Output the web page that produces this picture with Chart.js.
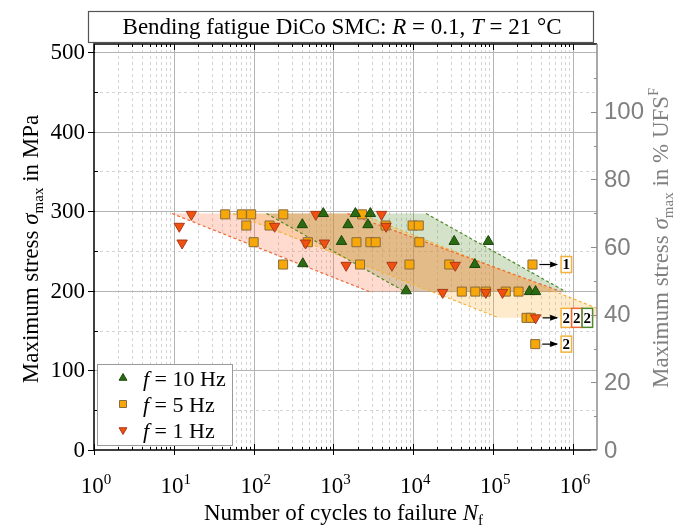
<!DOCTYPE html>
<html>
<head>
<meta charset="utf-8">
<script src="https://cdn.jsdelivr.net/npm/chart.js@4.4.1/dist/chart.umd.min.js"></script>
<style>
  html, body { margin: 0; padding: 0; background: #fff; }
  #wrap { width: 680px; height: 525px; }
</style>
</head>
<body>
<div id="wrap"><canvas id="fatigueChart" width="680" height="525"></canvas></div>
<script>
// Messwerte: Lastwechsel N und Oberspannung S (MPa), je Frequenz
const hz10N = [745, 1880, 2900, 407, 1520, 2700, 1260, 32500, 87000, 413, 59000, 8150, 285000, 340000];
const hz10S = [297, 297, 297, 283, 283, 283, 262, 262, 262, 234, 233, 200, 199, 199];

const hz5N = [44, 71, 93, 235, 2280, 81, 158, 4500, 9800, 11700, 100, 478, 1940, 2900, 3380, 11900,
              234, 2150, 8950, 28200, 311000, 40500, 59700, 81000, 144000, 208000, 262000, 296000, 337000];
const hz5S = [296, 296, 296, 296, 296, 282, 282, 282, 282, 282, 261, 261, 261, 261, 261, 261,
              233, 233, 233, 233, 233, 199, 199, 199, 199, 199, 166, 166, 133];

const hz1N = [16.6, 11.7, 12.7, 183, 600, 4000, 4550, 447, 770, 1440, 5400, 33500, 23300, 81000, 131000, 340000];
const hz1S = [296, 281, 260, 281, 296, 296, 281, 260, 260, 232, 232, 232, 198, 198, 198, 166];

// Streubänder (Eckpunkte: oben links, oben rechts, unten rechts, unten links)
const band1N = [9.5, 1500, 7.1e5, 2800];
const band1S = [297, 297, 199, 199];
const band5N = [55, 2100, 4e6, 1.18e5];
const band5S = [297, 297, 166, 166];
const band10N = [145, 14500, 8.1e5, 7800];
const band10S = [297, 297, 199, 199];

// Durchläufer: Punkt -> Kasten mit Anzahl
const runoutN = [3.1e5, 3.4e5, 3.37e5];
const runoutS = [233, 166, 133];
const runoutCount = [['1'], ['2', '2', '2'], ['2']];
const runoutFreq = [['5'], ['5', '1', '10'], ['5']];
const runoutBoxN = 7.1e5;

// Achsen
const xTickExp = [0, 1, 2, 3, 4, 5, 6];
const yTicks = [0, 100, 200, 300, 400, 500];
const y2Ticks = [0, 20, 40, 60, 80, 100];

const legendLabels = ['10', '5', '1'];

const col = {
  '10': { fill: '#2b6a12', line: '#1b470a', band: 'rgba(80,140,40,0.25)', edge: '#4f8a2c' },
  '5':  { fill: '#f7a707', line: '#8a6b3c', band: 'rgba(248,175,50,0.25)', edge: '#f4b23c' },
  '1':  { fill: '#f2500f', line: '#a8391a', band: 'rgba(250,110,60,0.25)', edge: '#f0683a' }
};

const serif = '"Liberation Serif", "Times New Roman", serif';
const sans = '"Liberation Sans", Arial, sans-serif';

const pts = (ns, ss) => ns.map((n, i) => ({ x: n, y: ss[i] }));
const closed = (ns, ss) => { const p = pts(ns, ss); p.push(p[0]); return p; };

function bandSet(ns, ss, key) {
  return { type: 'line', data: closed(ns, ss), fill: 'shape', backgroundColor: col[key].band,
           borderWidth: 0, pointRadius: 0, order: 3 };
}
function edgeSet(ns, ss, a, b, key) {
  return { type: 'line', data: [{ x: ns[a], y: ss[a] }, { x: ns[b], y: ss[b] }], fill: false,
           borderColor: col[key].edge, borderWidth: 1.2, borderDash: [3, 2.5], pointRadius: 0, order: 2 };
}

function drawMarker(ctx, style, x, y, r, fill, stroke) {
  ctx.save();
  ctx.fillStyle = fill; ctx.strokeStyle = stroke; ctx.lineWidth = 1;
  ctx.beginPath();
  if (style === 'up') {
    ctx.moveTo(x, y - r); ctx.lineTo(x + r * 0.866, y + r / 2); ctx.lineTo(x - r * 0.866, y + r / 2);
  } else if (style === 'down') {
    ctx.moveTo(x, y + r); ctx.lineTo(x + r * 0.866, y - r / 2); ctx.lineTo(x - r * 0.866, y - r / 2);
  } else {
    ctx.rect(x - r * 0.7, y - r * 0.7, r * 1.4, r * 1.4);
  }
  ctx.closePath(); ctx.fill(); ctx.stroke();
  ctx.restore();
}

function richWidth(ctx, segs) {
  let w = 0;
  segs.forEach(s => { ctx.font = s.font; w += ctx.measureText(s.text).width; });
  return w;
}
function drawRich(ctx, segs, x, y, align) {
  let cx = align === 'left' ? x : x - richWidth(ctx, segs) / 2;
  ctx.textAlign = 'left'; ctx.textBaseline = 'alphabetic';
  segs.forEach(s => {
    ctx.font = s.font;
    ctx.fillText(s.text, cx, y + (s.dy || 0));
    cx += ctx.measureText(s.text).width;
  });
}

const gridPlugin = {
  id: 'gridPlugin',
  beforeDatasetsDraw(chart) {
    const { ctx, chartArea: a, scales: { x, y } } = chart;
    ctx.save();
    ctx.lineWidth = 1;
    // Nebenraster gestrichelt
    ctx.strokeStyle = '#d4d4d4'; ctx.setLineDash([3, 3]);
    for (let d = 0; d <= 6; d++) {
      for (let m = 2; m <= 9; m++) {
        const v = m * Math.pow(10, d);
        if (v >= x.max) continue;
        const px = Math.round(x.getPixelForValue(v)) + 0.5;
        ctx.beginPath(); ctx.moveTo(px, a.top); ctx.lineTo(px, a.bottom); ctx.stroke();
      }
    }
    for (let v = 50; v < y.max; v += 100) {
      const py = Math.round(y.getPixelForValue(v)) + 0.5;
      ctx.beginPath(); ctx.moveTo(a.left, py); ctx.lineTo(a.right, py); ctx.stroke();
    }
    // Hauptraster
    ctx.setLineDash([]); ctx.strokeStyle = '#b4b4b4';
    xTickExp.slice(1).forEach(e => {
      const px = Math.round(x.getPixelForValue(Math.pow(10, e))) + 0.5;
      ctx.beginPath(); ctx.moveTo(px, a.top); ctx.lineTo(px, a.bottom); ctx.stroke();
    });
    yTicks.slice(1).forEach(v => {
      const py = Math.round(y.getPixelForValue(v)) + 0.5;
      ctx.beginPath(); ctx.moveTo(a.left, py); ctx.lineTo(a.right, py); ctx.stroke();
    });
    ctx.restore();
  },
  afterDatasetsDraw(chart) {
    const { ctx, chartArea: a, scales: { x, y, y2 } } = chart;
    ctx.save();

    // Durchläufer-Pfeile und Kästen
    const bx = x.getPixelForValue(runoutBoxN);
    runoutN.forEach((n, i) => {
      const px = x.getPixelForValue(n), py = y.getPixelForValue(runoutS[i]);
      ctx.strokeStyle = '#000'; ctx.fillStyle = '#000'; ctx.lineWidth = 1.2;
      ctx.beginPath(); ctx.moveTo(px + 7, py); ctx.lineTo(bx - 4, py); ctx.stroke();
      ctx.beginPath(); ctx.moveTo(bx - 3, py); ctx.lineTo(bx - 11, py - 3); ctx.lineTo(bx - 11, py + 3); ctx.closePath(); ctx.fill();
      runoutCount[i].forEach((t, k) => {
        const h = i === 1 ? 19 : 16, w = 10.5;
        const l = bx + k * w;
        ctx.fillStyle = '#fff';
        ctx.fillRect(l, py - h / 2, w, h);
        ctx.strokeStyle = col[runoutFreq[i][k]].edge; ctx.lineWidth = 1.5;
        ctx.strokeRect(l, py - h / 2, w, h);
        ctx.fillStyle = '#000'; ctx.font = 'bold 15px ' + serif;
        ctx.textAlign = 'center'; ctx.textBaseline = 'middle';
        ctx.fillText(t, l + w / 2, py + 1);
      });
    });

    // Rahmen und Achslinien
    ctx.lineWidth = 1.5; ctx.strokeStyle = '#000';
    ctx.beginPath();
    ctx.moveTo(a.right, a.top); ctx.lineTo(a.left, a.top); ctx.lineTo(a.left, a.bottom); ctx.lineTo(a.right, a.bottom);
    ctx.stroke();
    ctx.strokeStyle = '#8c8c8c';
    ctx.beginPath(); ctx.moveTo(a.right, a.top); ctx.lineTo(a.right, a.bottom); ctx.stroke();

    // Ticks x (oben und unten)
    ctx.strokeStyle = '#000'; ctx.lineWidth = 1;
    for (let d = 0; d <= 6; d++) {
      for (let m = 1; m <= 9; m++) {
        const v = m * Math.pow(10, d);
        if (v >= x.max) continue;
        const px = Math.round(x.getPixelForValue(v)) + 0.5;
        const len = m === 1 ? 6 : 3;
        ctx.beginPath();
        ctx.moveTo(px, a.bottom + (m === 1 ? 5 : 0)); ctx.lineTo(px, a.bottom - len);
        ctx.moveTo(px, a.top); ctx.lineTo(px, a.top + len);
        ctx.stroke();
      }
    }
    // Ticks y links
    for (let v = 0; v <= 500; v += 50) {
      const py = Math.round(y.getPixelForValue(v)) + 0.5;
      ctx.beginPath();
      if (v % 100 === 0) { ctx.moveTo(a.left - 6, py); ctx.lineTo(a.left + 1, py); }
      else { ctx.moveTo(a.left, py); ctx.lineTo(a.left + 4, py); }
      ctx.stroke();
    }
    // Ticks y2 rechts
    ctx.strokeStyle = '#8c8c8c';
    for (let v = 0; v <= 110; v += 10) {
      const py = Math.round(y2.getPixelForValue(v)) + 0.5;
      ctx.beginPath(); ctx.moveTo(a.right - (v % 20 === 0 ? 6 : 3), py); ctx.lineTo(a.right, py); ctx.stroke();
    }

    // Beschriftung y links
    ctx.fillStyle = '#000'; ctx.font = '23px ' + serif;
    ctx.textAlign = 'right'; ctx.textBaseline = 'middle';
    yTicks.forEach(v => ctx.fillText(String(v), a.left - 9, y.getPixelForValue(v) + 1));
    // Beschriftung y2 rechts
    ctx.fillStyle = '#808080'; ctx.font = '24px ' + sans; ctx.textAlign = 'left';
    y2Ticks.forEach(v => ctx.fillText(String(v), a.right + 7, y2.getPixelForValue(v) + 1));
    // Beschriftung x (10^n)
    ctx.fillStyle = '#000';
    xTickExp.forEach(e => {
      const px = x.getPixelForValue(Math.pow(10, e));
      drawRich(ctx, [{ text: '10', font: '23px ' + serif }, { text: String(e), font: '15px ' + serif, dy: -9 }], px + 2, 493, 'center');
    });

    // Achsentitel
    drawRich(ctx, [
      { text: 'Number of cycles to failure ', font: '23px ' + serif },
      { text: 'N', font: 'italic 23px ' + serif },
      { text: 'f', font: '15px ' + serif, dy: 5 }
    ], (a.left + a.right) / 2 - 2, 520, 'center');

    ctx.save();
    ctx.translate(38, (a.top + a.bottom) / 2 + 2); ctx.rotate(-Math.PI / 2);
    drawRich(ctx, [
      { text: 'Maximum stress ', font: '23px ' + serif },
      { text: 'σ', font: 'italic 23px ' + serif },
      { text: 'max', font: '15px ' + serif, dy: 5 },
      { text: ' in MPa', font: '23px ' + serif }
    ], 0, 0, 'center');
    ctx.restore();

    ctx.save();
    ctx.fillStyle = '#808080';
    ctx.translate(668, 238); ctx.rotate(-Math.PI / 2);
    drawRich(ctx, [
      { text: 'Maximum stress ', font: '23px ' + serif },
      { text: 'σ', font: 'italic 23px ' + serif },
      { text: 'max', font: '15px ' + serif, dy: 5 },
      { text: ' in % UFS', font: '23px ' + serif },
      { text: 'F', font: '14px ' + serif, dy: -10 }
    ], 0, 0, 'center');
    ctx.restore();

    // Titel im Kasten
    ctx.strokeStyle = '#555'; ctx.lineWidth = 1.2;
    ctx.strokeRect(88.5, 11.5, 505, 31);
    ctx.fillStyle = '#000';
    drawRich(ctx, [
      { text: 'Bending fatigue DiCo SMC: ', font: '23px ' + serif },
      { text: 'R', font: 'italic 23px ' + serif },
      { text: ' = 0.1, ', font: '23px ' + serif },
      { text: 'T', font: 'italic 23px ' + serif },
      { text: ' = 21 °C', font: '23px ' + serif }
    ], 342, 34, 'center');

    // Legende
    ctx.fillStyle = '#fff'; ctx.fillRect(97, 364, 135, 81);
    ctx.strokeStyle = '#999'; ctx.lineWidth = 1; ctx.strokeRect(97.5, 364.5, 135, 81);
    const styles = { '10': 'up', '5': 'square', '1': 'down' };
    legendLabels.forEach((k, i) => {
      const ly = 378 + i * 26;
      drawMarker(ctx, styles[k], 123, ly, k === '5' ? 5 : 4.5, col[k].fill, col[k].line);
      ctx.fillStyle = '#000';
      drawRich(ctx, [
        { text: 'f', font: 'italic 22px ' + serif },
        { text: ' = ' + k + ' Hz', font: '22px ' + serif }
      ], 143, ly + 8, 'left');
    });

    ctx.restore();
  }
};

const ctx = document.getElementById('fatigueChart').getContext('2d');
const fatigueChart = new Chart(ctx, {
  type: 'scatter',
  data: {
    datasets: [
      { label: 'f = 10 Hz', data: pts(hz10N, hz10S), pointStyle: 'triangle', pointRadius: 6,
        backgroundColor: col['10'].fill, borderColor: col['10'].line, borderWidth: 1, order: 0 },
      { label: 'f = 5 Hz', data: pts(hz5N, hz5S), pointStyle: 'rect', pointRadius: 6.4,
        backgroundColor: col['5'].fill, borderColor: col['5'].line, borderWidth: 1, order: 1 },
      { label: 'f = 1 Hz', data: pts(hz1N, hz1S), pointStyle: 'triangle', rotation: 180, pointRadius: 6,
        backgroundColor: col['1'].fill, borderColor: col['1'].line, borderWidth: 1, order: 0 },
      bandSet(band1N, band1S, '1'),
      bandSet(band5N, band5S, '5'),
      bandSet(band10N, band10S, '10'),
      edgeSet(band1N, band1S, 0, 3, '1'), edgeSet(band1N, band1S, 1, 2, '1'),
      edgeSet(band5N, band5S, 0, 3, '5'), edgeSet(band5N, band5S, 1, 2, '5'),
      edgeSet(band10N, band10S, 0, 3, '10'), edgeSet(band10N, band10S, 1, 2, '10')
    ]
  },
  options: {
    responsive: false,
    animation: false,
    layout: { padding: { left: 94, right: 83, top: 44, bottom: 75 } },
    plugins: { legend: { display: false }, tooltip: { enabled: false } },
    scales: {
      x: { type: 'logarithmic', min: 1, max: 2e6, display: false },
      y: { type: 'linear', min: 0, max: 510, display: false },
      y2: { type: 'linear', position: 'right', min: 0, max: 120, display: false }
    }
  },
  plugins: [gridPlugin]
});
</script>
</body>
</html>
